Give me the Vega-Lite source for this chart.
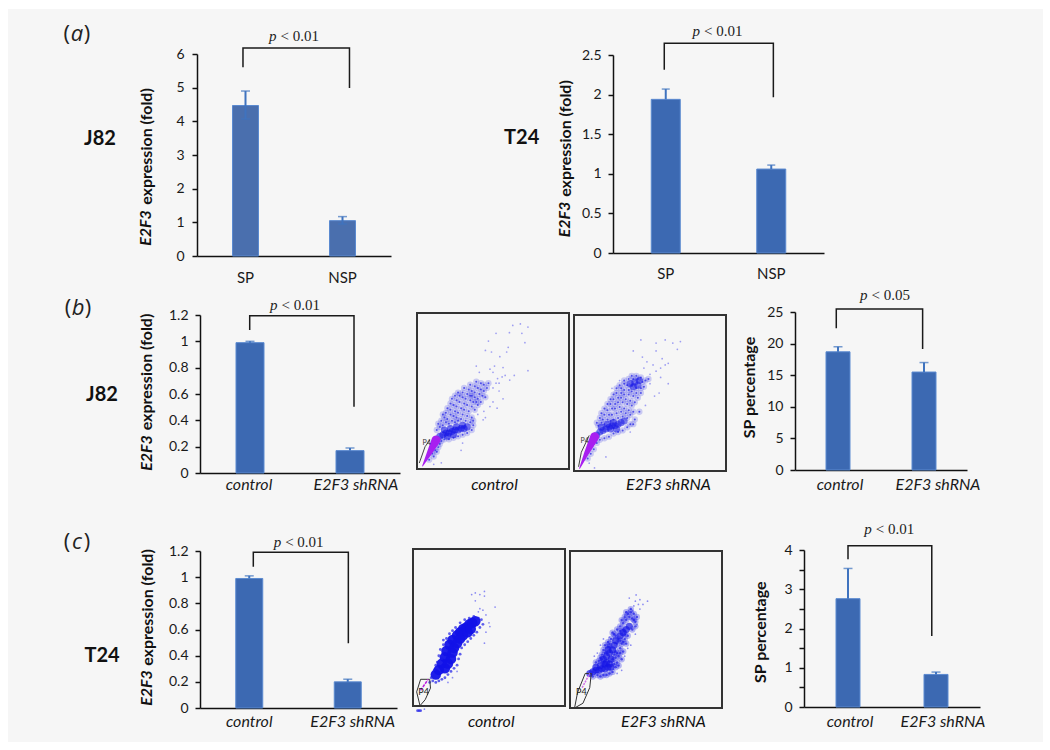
{"$schema":"https://vega.github.io/schema/vega-lite/v6.json","background":"#f6f6f6","padding":0,"spacing":0,
"config":{"view":{"stroke":null},"axis":{"grid":false,"labelFont":"Lato","labelFontSize":14,"labelColor":"#1a1a1a","titleFont":"Lato","titleFontSize":16,"titleFontWeight":"bold","titleColor":"#111111","tickColor":"#111111","domainColor":"#111111","domainWidth":1.5,"tickWidth":1.5,"tickSize":5,"labelPadding":7}},
"datasets":{
"bcm":[{"x":13,"y":25},{"x":15,"y":27},{"x":17,"y":28},{"x":14,"y":29},{"x":16,"y":31},{"x":19,"y":30},{"x":21,"y":29},{"x":18,"y":33},{"x":20,"y":32},{"x":23,"y":31},{"x":25,"y":30},{"x":27,"y":31},{"x":17,"y":35},{"x":19,"y":36},{"x":22,"y":35},{"x":24,"y":34},{"x":26,"y":33},{"x":29,"y":32},{"x":32,"y":31},{"x":35,"y":30},{"x":37,"y":31},{"x":20,"y":39},{"x":22,"y":38},{"x":25,"y":37},{"x":27,"y":36},{"x":30,"y":35},{"x":33,"y":34},{"x":36,"y":33},{"x":22,"y":42},{"x":24,"y":41},{"x":26,"y":40},{"x":29,"y":39},{"x":31,"y":38},{"x":34,"y":37},{"x":23,"y":45},{"x":26,"y":44},{"x":28,"y":43},{"x":31,"y":42},{"x":33,"y":41},{"x":36,"y":40},{"x":38,"y":38},{"x":25,"y":47},{"x":28,"y":47},{"x":30,"y":46},{"x":32,"y":45},{"x":35,"y":44},{"x":37,"y":43},{"x":40,"y":41},{"x":27,"y":49},{"x":30,"y":49},{"x":33,"y":48},{"x":35,"y":47},{"x":38,"y":46},{"x":40,"y":45},{"x":42,"y":43},{"x":31,"y":52},{"x":34,"y":51},{"x":36,"y":50},{"x":38,"y":49},{"x":41,"y":48},{"x":43,"y":47},{"x":45,"y":46},{"x":35,"y":54},{"x":38,"y":53},{"x":40,"y":52},{"x":42,"y":51},{"x":44,"y":50},{"x":46,"y":52},{"x":39,"y":56},{"x":42,"y":55},{"x":44,"y":54},{"x":47,"y":55},{"x":36,"y":47},{"x":39,"y":43},{"x":10,"y":10},{"x":12,"y":12},{"x":14,"y":14},{"x":15,"y":16},{"x":12,"y":16},{"x":16,"y":18},{"x":18,"y":19},{"x":13,"y":11},{"x":11,"y":8},{"x":8,"y":6},{"x":14,"y":18},{"x":21,"y":19},{"x":24,"y":20},{"x":27,"y":21},{"x":30,"y":22},{"x":33,"y":23},{"x":36,"y":25},{"x":37,"y":28}],
"bsm":[{"x":16,"y":29},{"x":18,"y":31},{"x":15,"y":31},{"x":20,"y":30},{"x":17,"y":34},{"x":19,"y":33},{"x":22,"y":33},{"x":24,"y":32},{"x":26,"y":33},{"x":29,"y":34},{"x":32,"y":35},{"x":35,"y":34},{"x":18,"y":37},{"x":20,"y":36},{"x":23,"y":36},{"x":25,"y":36},{"x":28,"y":37},{"x":31,"y":38},{"x":34,"y":37},{"x":37,"y":36},{"x":20,"y":40},{"x":22,"y":39},{"x":25,"y":40},{"x":27,"y":40},{"x":30,"y":41},{"x":33,"y":40},{"x":36,"y":39},{"x":39,"y":38},{"x":22,"y":43},{"x":24,"y":43},{"x":27,"y":43},{"x":29,"y":44},{"x":32,"y":44},{"x":35,"y":43},{"x":38,"y":42},{"x":24,"y":46},{"x":26,"y":46},{"x":29,"y":47},{"x":31,"y":47},{"x":34,"y":46},{"x":37,"y":45},{"x":40,"y":44},{"x":26,"y":49},{"x":28,"y":50},{"x":31,"y":50},{"x":33,"y":49},{"x":36,"y":49},{"x":39,"y":48},{"x":42,"y":47},{"x":28,"y":53},{"x":31,"y":53},{"x":33,"y":52},{"x":36,"y":52},{"x":38,"y":51},{"x":41,"y":50},{"x":44,"y":50},{"x":30,"y":55},{"x":33,"y":56},{"x":35,"y":55},{"x":38,"y":55},{"x":41,"y":53},{"x":44,"y":53},{"x":46,"y":54},{"x":33,"y":58},{"x":36,"y":59},{"x":39,"y":59},{"x":42,"y":59},{"x":45,"y":57},{"x":47,"y":58},{"x":49,"y":59},{"x":38,"y":61},{"x":41,"y":61},{"x":44,"y":60},{"x":9,"y":8},{"x":11,"y":11},{"x":13,"y":14},{"x":15,"y":18},{"x":17,"y":20},{"x":13,"y":19},{"x":20,"y":21},{"x":23,"y":22},{"x":26,"y":24},{"x":29,"y":25},{"x":32,"y":26},{"x":35,"y":28},{"x":37,"y":30},{"x":40,"y":33},{"x":39,"y":30},{"x":43,"y":38}],
"csm":[{"x":19,"y":30},{"x":17,"y":29},{"x":21,"y":34},{"x":20,"y":32},{"x":22,"y":37},{"x":23,"y":40},{"x":25,"y":42},{"x":27,"y":44},{"x":29,"y":47},{"x":31,"y":50},{"x":33,"y":52},{"x":35,"y":54},{"x":37,"y":56},{"x":39,"y":58},{"x":41,"y":57},{"x":43,"y":55},{"x":43,"y":52},{"x":41,"y":50},{"x":38,"y":46},{"x":36,"y":44},{"x":34,"y":41},{"x":33,"y":38},{"x":31,"y":35},{"x":30,"y":32},{"x":29,"y":28},{"x":32,"y":33},{"x":31,"y":29},{"x":30,"y":26},{"x":28,"y":23},{"x":26,"y":22},{"x":24,"y":21},{"x":22,"y":21},{"x":20,"y":20},{"x":18,"y":21},{"x":15,"y":20},{"x":28,"y":48},{"x":26,"y":39},{"x":34,"y":56},{"x":36,"y":58},{"x":38,"y":60},{"x":40,"y":61},{"x":42,"y":60},{"x":40,"y":63},{"x":37,"y":61},{"x":44,"y":58},{"x":42,"y":56},{"x":35,"y":50},{"x":32,"y":44},{"x":31,"y":41},{"x":29,"y":34},{"x":32,"y":27},{"x":34,"y":31},{"x":21,"y":31},{"x":23,"y":35},{"x":25,"y":39},{"x":33,"y":43},{"x":36,"y":47},{"x":35,"y":42},{"x":33,"y":35},{"x":35,"y":36},{"x":37,"y":41},{"x":30,"y":36},{"x":28,"y":31},{"x":26,"y":41},{"x":30,"y":46},{"x":33,"y":49},{"x":22,"y":28}]
},
"vconcat":[
{"width":1050,"height":9,"view":{"fill":"white"},"data":{"values":[]},"mark":"point","encoding":{}},
{"spacing":0,"bounds":"flush","hconcat":[
{"width":8,"height":277,"view":{"fill":"white"},"data":{"values":[]},"mark":"point","encoding":{}},
{"width":189,"height":1,"data":{"values":[]},"mark":"point","encoding":{}},
{"width":194,"height":247,"resolve":{"scale":{"x":"independent"}},
 "encoding":{"y":{"field":"y","type":"quantitative","scale":{"domain":[0,6],"nice":false,"range":[247,45]},"axis":{"values":[0,1,2,3,4,5,6],"title":"expression (fold)","titleX":-51,"titleY":137,"titleAngle":270,"titleAlign":"center","titleBaseline":"middle","labelPadding":8}}},
 "layer":[
 {"encoding":{"x":{"field":"g","type":"nominal","sort":null,"scale":{"type":"band","domain":["SP","NSP"],"paddingInner":0,"paddingOuter":0},"axis":{"title":null,"ticks":false,"labelAngle":0,"labelPadding":14,"labelFontSize":15}}},
  "layer":[
  {"data":{"values":[{"g":"SP","y":4.47},{"g":"NSP","y":1.05}]},"mark":{"type":"bar","width":26,"color":"#4a6fae","stroke":"#5b8ad0","strokeWidth":1}},
  {"data":{"values":[{"g":"SP","y":4.07,"h":4.9},{"g":"NSP","y":0.95,"h":1.17}]},"mark":{"type":"rule","color":"#3f73bf","strokeWidth":2},"encoding":{"y2":{"field":"h"}}},
  {"data":{"values":[{"g":"SP","y":4.9},{"g":"NSP","y":1.17},{"g":"SP","y":4.07},{"g":"NSP","y":0.95}]},"mark":{"type":"tick","size":9,"thickness":1.5,"color":"#3f73bf"}}
  ]},
 {"encoding":{"x":{"field":"x","type":"quantitative","scale":{"domain":[0,100],"nice":false,"zero":false},"axis":null}},
  "layer":[
  {"data":{"values":[{"i":1,"x":23.7,"y":5.61},{"i":2,"x":23.7,"y":6.18},{"i":3,"x":78.6,"y":6.18},{"i":4,"x":78.6,"y":4.99}]},"mark":{"type":"line","color":"#1a1a1a","strokeWidth":1.5},"encoding":{"order":{"field":"i"}}},
  {"data":{"values":[{"x":42,"y":6.53}]},"mark":{"type":"text","text":"p","font":"Liberation Serif","fontStyle":"italic","fontSize":15,"align":"right","dx":-2,"color":"#222222"}},
  {"data":{"values":[{"t":"< 0.01","x":42,"y":6.53}]},"mark":{"type":"text","font":"Liberation Serif","fontSize":15,"align":"left","dx":2,"color":"#222222"},"encoding":{"text":{"field":"t"}}},
  {"data":{"values":[{"t":"E2F3","x":-26.3,"y":0.83}]},"mark":{"type":"text","font":"Lato","fontStyle":"italic","fontWeight":"bold","fontSize":16,"angle":270,"color":"#111111"},"encoding":{"text":{"field":"t"}}},
  {"data":{"values":[{"t":"J82","x":-50,"y":3.475}]},"mark":{"type":"text","font":"Lato","fontWeight":"bold","fontSize":20,"color":"#111111"},"encoding":{"text":{"field":"t"}}},
  {"data":{"values":[{"t":"(","x":-67.1,"y":6.59},{"t":")","x":-56.7,"y":6.59}]},"mark":{"type":"text","font":"Open Sans","fontSize":22,"color":"#222222"},"encoding":{"text":{"field":"t"}}},
  {"data":{"values":[{"t":"a","x":-61.9,"y":6.59}]},"mark":{"type":"text","font":"Open Sans","fontStyle":"italic","fontSize":22,"color":"#222222"},"encoding":{"text":{"field":"t"}}}
  ]}
 ]},
{"width":222,"height":1,"data":{"values":[]},"mark":"point","encoding":{}},
{"width":211,"height":244,"resolve":{"scale":{"x":"independent"}},
 "encoding":{"y":{"field":"y","type":"quantitative","scale":{"domain":[0,2.5],"nice":false,"range":[244,46]},"axis":{"values":[0,0.5,1,1.5,2,2.5],"format":"~g","title":"expression (fold)","titleX":-48,"titleY":129,"titleAngle":270,"titleAlign":"center","titleBaseline":"middle"}}},
 "layer":[
 {"encoding":{"x":{"field":"g","type":"nominal","sort":null,"scale":{"type":"band","domain":["SP","NSP"],"paddingInner":0,"paddingOuter":0},"axis":{"title":null,"ticks":false,"labelAngle":0,"labelPadding":13,"labelFontSize":15}}},
  "layer":[
  {"data":{"values":[{"g":"SP","y":1.94},{"g":"NSP","y":1.06}]},"mark":{"type":"bar","width":29,"color":"#3c69b2","stroke":"#5b8ad0","strokeWidth":1}},
  {"data":{"values":[{"g":"SP","y":1.94,"h":2.07},{"g":"NSP","y":1.06,"h":1.11}]},"mark":{"type":"rule","color":"#3f73bf","strokeWidth":2},"encoding":{"y2":{"field":"h"}}},
  {"data":{"values":[{"g":"SP","y":2.07},{"g":"NSP","y":1.11}]},"mark":{"type":"tick","size":8,"thickness":1.5,"color":"#3f73bf"}}
  ]},
 {"encoding":{"x":{"field":"x","type":"quantitative","scale":{"domain":[0,100],"nice":false,"zero":false},"axis":null}},
  "layer":[
  {"data":{"values":[{"i":1,"x":24.3,"y":2.314},{"i":2,"x":24.3,"y":2.648},{"i":3,"x":76,"y":2.648},{"i":4,"x":76,"y":1.966}]},"mark":{"type":"line","color":"#1a1a1a","strokeWidth":1.5},"encoding":{"order":{"field":"i"}}},
  {"data":{"values":[{"x":42.2,"y":2.807}]},"mark":{"type":"text","text":"p","font":"Liberation Serif","fontStyle":"italic","fontSize":15,"align":"right","dx":-2,"color":"#222222"}},
  {"data":{"values":[{"t":"< 0.01","x":42.2,"y":2.807}]},"mark":{"type":"text","font":"Liberation Serif","fontSize":15,"align":"left","dx":2,"color":"#222222"},"encoding":{"text":{"field":"t"}}},
  {"data":{"values":[{"t":"E2F3","x":-22.7,"y":0.423}]},"mark":{"type":"text","font":"Lato","fontStyle":"italic","fontWeight":"bold","fontSize":16,"angle":270,"color":"#111111"},"encoding":{"text":{"field":"t"}}},
  {"data":{"values":[{"t":"T24","x":-43.3,"y":1.452}]},"mark":{"type":"text","font":"Lato","fontWeight":"bold","fontSize":20,"color":"#111111"},"encoding":{"text":{"field":"t"}}}
  ]}
 ]},
{"width":219,"height":1,"data":{"values":[]},"mark":"point","encoding":{}},
{"width":7,"height":277,"view":{"fill":"white"},"data":{"values":[]},"mark":"point","encoding":{}}
]},
{"spacing":0,"bounds":"flush","hconcat":[
{"width":8,"height":214,"view":{"fill":"white"},"data":{"values":[]},"mark":"point","encoding":{}},
{"width":192,"height":1,"data":{"values":[]},"mark":"point","encoding":{}},
{"width":200,"height":187,"resolve":{"scale":{"x":"independent"}},
 "encoding":{"y":{"field":"y","type":"quantitative","scale":{"domain":[0,1.2],"nice":false,"range":[187,29]},"axis":{"values":[0,0.2,0.4,0.6,0.8,1,1.2],"format":"~g","title":"expression (fold)","titleX":-53.3,"titleY":85.5,"titleAngle":270,"titleAlign":"center","titleBaseline":"middle"}}},
 "layer":[
 {"encoding":{"x":{"field":"g","type":"nominal","sort":null,"scale":{"type":"band","domain":["control","E2F3 shRNA"],"paddingInner":0,"paddingOuter":0},"axis":{"title":null,"ticks":false,"labelAngle":0,"labelPadding":3,"labelFontSize":16,"labelFontStyle":"italic","labelOffset":{"condition":{"test":"datum.value=='control'","value":-1},"value":6}}}},
  "layer":[
  {"data":{"values":[{"g":"control","y":0.99},{"g":"E2F3 shRNA","y":0.17}]},"mark":{"type":"bar","width":28,"color":"#3c69b2","stroke":"#5b8ad0","strokeWidth":1}},
  {"data":{"values":[{"g":"control","y":0.99,"h":1.0},{"g":"E2F3 shRNA","y":0.17,"h":0.19}]},"mark":{"type":"rule","color":"#3f73bf","strokeWidth":2},"encoding":{"y2":{"field":"h"}}},
  {"data":{"values":[{"g":"control","y":1.0},{"g":"E2F3 shRNA","y":0.19}]},"mark":{"type":"tick","size":9,"thickness":1.5,"color":"#3f73bf"}}
  ]},
 {"encoding":{"x":{"field":"x","type":"quantitative","scale":{"domain":[0,100],"nice":false,"zero":false},"axis":null}},
  "layer":[
  {"data":{"values":[{"i":1,"x":24.85,"y":1.086},{"i":2,"x":24.85,"y":1.195},{"i":3,"x":77,"y":1.195},{"i":4,"x":77,"y":0.504}]},"mark":{"type":"line","color":"#1a1a1a","strokeWidth":1.5},"encoding":{"order":{"field":"i"}}},
  {"data":{"values":[{"x":39.75,"y":1.276}]},"mark":{"type":"text","text":"p","font":"Liberation Serif","fontStyle":"italic","fontSize":15,"align":"right","dx":-2,"color":"#222222"}},
  {"data":{"values":[{"t":"< 0.01","x":39.75,"y":1.276}]},"mark":{"type":"text","font":"Liberation Serif","fontSize":15,"align":"left","dx":2,"color":"#222222"},"encoding":{"text":{"field":"t"}}},
  {"data":{"values":[{"t":"E2F3","x":-26.65,"y":0.152}]},"mark":{"type":"text","font":"Lato","fontStyle":"italic","fontWeight":"bold","fontSize":16,"angle":270,"color":"#111111"},"encoding":{"text":{"field":"t"}}},
  {"data":{"values":[{"t":"J82","x":-49,"y":0.592}]},"mark":{"type":"text","font":"Lato","fontWeight":"bold","fontSize":20,"color":"#111111"},"encoding":{"text":{"field":"t"}}},
  {"data":{"values":[{"t":"(","x":-66,"y":1.253},{"t":")","x":-56,"y":1.253}]},"mark":{"type":"text","font":"Open Sans","fontSize":22,"color":"#222222"},"encoding":{"text":{"field":"t"}}},
  {"data":{"values":[{"t":"b","x":-61,"y":1.253}]},"mark":{"type":"text","font":"Open Sans","fontStyle":"italic","fontSize":22,"color":"#222222"},"encoding":{"text":{"field":"t"}}}
  ]}
 ]},
{"width":17,"height":1,"data":{"values":[]},"mark":"point","encoding":{}},
{"width":152,"height":183,
 "encoding":{"x":{"field":"x","type":"quantitative","scale":{"domain":[0,100],"nice":false,"zero":false},"axis":{"title":"control","domain":false,"ticks":false,"labels":false,"titleFontStyle":"italic","titleFontWeight":"normal","titleFontSize":16,"titleX":77,"titleY":15,"titleAlign":"center","titleBaseline":"middle"}},"y":{"field":"y","type":"quantitative","scale":{"domain":[0,100],"nice":false,"zero":false,"range":[183,27]},"axis":null}},
 "layer":[
 {"data":{"values":[{"x":0,"y":0,"x2":100,"y2":100}]},"mark":{"type":"rect","fill":null,"stroke":"#333333","strokeWidth":2},"encoding":{"x2":{"field":"x2"},"y2":{"field":"y2"}}},
 {"data":{"name":"bcm"},"mark":{"type":"circle","size":40,"opacity":0.2,"color":"#1c1ce8"}},
 {"data":{"values":[{"x":15,"y":21},{"x":17,"y":22},{"x":19,"y":23},{"x":21,"y":23},{"x":23,"y":24},{"x":25,"y":25},{"x":27,"y":25},{"x":29,"y":26},{"x":31,"y":26},{"x":33,"y":27},{"x":18,"y":25},{"x":22,"y":26},{"x":26,"y":27},{"x":30,"y":28},{"x":20,"y":21},{"x":24,"y":22},{"x":13,"y":19}]},"mark":{"type":"circle","size":50,"opacity":0.6,"color":"#1515e6"}},
 {"data":{"name":"bcm"},"mark":{"type":"circle","size":4,"opacity":0.7,"color":"#1c1ce8"}},
 {"data":{"values":[{"x":47,"y":82},{"x":52,"y":87},{"x":60.8,"y":87.4},{"x":63,"y":92},{"x":68,"y":93},{"x":73,"y":91},{"x":69,"y":87},{"x":71,"y":81},{"x":60,"y":78},{"x":59,"y":75},{"x":54.5,"y":72},{"x":45,"y":76},{"x":49,"y":75},{"x":39,"y":66},{"x":41,"y":62},{"x":48,"y":64},{"x":51,"y":66},{"x":56.6,"y":65},{"x":73,"y":63},{"x":64,"y":60},{"x":61,"y":57},{"x":54,"y":55},{"x":56.6,"y":45},{"x":52.7,"y":39},{"x":43.5,"y":31.5},{"x":30,"y":16.6},{"x":16,"y":4},{"x":40,"y":35},{"x":44,"y":37},{"x":48,"y":40},{"x":50,"y":43},{"x":45,"y":33},{"x":50,"y":52},{"x":52,"y":55},{"x":54,"y":50},{"x":53,"y":58},{"x":56,"y":59},{"x":58,"y":60},{"x":50,"y":62},{"x":29,"y":12},{"x":11,"y":3}]},"mark":{"type":"circle","size":3,"opacity":0.5,"color":"#4545f0"}},
 {"data":{"values":[{"x":3.7,"y":2,"w":0},{"x":8,"y":10,"w":5},{"x":12.5,"y":18.6,"w":10}]},"mark":{"type":"trail","color":"#a81ff0"},"encoding":{"size":{"field":"w","type":"quantitative","legend":null,"scale":{"domain":[0,10],"range":[1,9]}},"order":{"field":"w"}}},
 {"data":{"values":[{"i":1,"x":1.5,"y":3.8},{"i":2,"x":5.3,"y":14.3},{"i":3,"x":8.5,"y":18.6}]},"mark":{"type":"line","color":"#444444","strokeWidth":1},"encoding":{"order":{"field":"i"}}},
 {"data":{"values":[{"t":"P4","x":6.4,"y":16.7}]},"mark":{"type":"text","font":"Lato","fontSize":7,"color":"#333333"},"encoding":{"text":{"field":"t"}}}
 ]},
{"width":5,"height":1,"data":{"values":[]},"mark":"point","encoding":{}},
{"width":152,"height":185,
 "encoding":{"x":{"field":"x","type":"quantitative","scale":{"domain":[0,100],"nice":false,"zero":false},"axis":{"title":"E2F3 shRNA","domain":false,"ticks":false,"labels":false,"titleFontStyle":"italic","titleFontWeight":"normal","titleFontSize":16,"titleX":94,"titleY":13,"titleAlign":"center","titleBaseline":"middle"}},"y":{"field":"y","type":"quantitative","scale":{"domain":[0,100],"nice":false,"zero":false,"range":[185,29]},"axis":null}},
 "layer":[
 {"data":{"values":[{"x":0,"y":0,"x2":100,"y2":100}]},"mark":{"type":"rect","fill":null,"stroke":"#333333","strokeWidth":2},"encoding":{"x2":{"field":"x2"},"y2":{"field":"y2"}}},
 {"data":{"name":"bsm"},"mark":{"type":"circle","size":40,"opacity":0.2,"color":"#1c1ce8"}},
 {"data":{"values":[{"x":15,"y":23},{"x":17,"y":25},{"x":19,"y":26},{"x":21,"y":27},{"x":23,"y":28},{"x":25,"y":29},{"x":27,"y":29},{"x":29,"y":30},{"x":31,"y":31},{"x":33,"y":32},{"x":18,"y":28},{"x":22,"y":30},{"x":26,"y":31},{"x":24,"y":27},{"x":28,"y":27},{"x":37,"y":56},{"x":40,"y":57},{"x":43,"y":58},{"x":39,"y":54},{"x":42,"y":55}]},"mark":{"type":"circle","size":50,"opacity":0.55,"color":"#1515e6"}},
 {"data":{"name":"bsm"},"mark":{"type":"circle","size":4,"opacity":0.7,"color":"#1c1ce8"}},
 {"data":{"values":[{"x":44,"y":84},{"x":54,"y":82},{"x":60,"y":84},{"x":65,"y":82},{"x":70,"y":83},{"x":68,"y":78},{"x":54,"y":77},{"x":45,"y":73},{"x":58,"y":72},{"x":52,"y":68},{"x":60,"y":68},{"x":62,"y":69},{"x":39,"y":77},{"x":46,"y":66},{"x":54,"y":64},{"x":57,"y":60},{"x":62,"y":56},{"x":56,"y":50},{"x":53,"y":48},{"x":47,"y":42},{"x":37,"y":25},{"x":21,"y":9},{"x":13.5,"y":2},{"x":10,"y":5},{"x":30,"y":58},{"x":25,"y":53},{"x":50,"y":62},{"x":48,"y":70},{"x":57,"y":66},{"x":50,"y":56}]},"mark":{"type":"circle","size":3,"opacity":0.5,"color":"#4545f0"}},
 {"data":{"values":[{"x":3.7,"y":1.7,"w":0},{"x":8.5,"y":12,"w":5},{"x":13.6,"y":22,"w":10}]},"mark":{"type":"trail","color":"#a81ff0"},"encoding":{"size":{"field":"w","type":"quantitative","legend":null,"scale":{"domain":[0,10],"range":[1,7]}},"order":{"field":"w"}}},
 {"data":{"values":[{"i":1,"x":3,"y":2.7},{"i":2,"x":4.8,"y":12},{"i":3,"x":10,"y":22.8}]},"mark":{"type":"line","color":"#444444","strokeWidth":1},"encoding":{"order":{"field":"i"}}},
 {"data":{"values":[{"t":"P4","x":7,"y":19}]},"mark":{"type":"text","font":"Lato","fontSize":7,"color":"#333333"},"encoding":{"text":{"field":"t"}}}
 ]},
{"width":69,"height":1,"data":{"values":[]},"mark":"point","encoding":{}},
{"width":172,"height":184,"resolve":{"scale":{"x":"independent"}},
 "encoding":{"y":{"field":"y","type":"quantitative","scale":{"domain":[0,25],"nice":false,"range":[184,26]},"axis":{"values":[0,5,10,15,20,25],"title":"SP percentage","titleX":-45.7,"titleY":101,"titleAngle":270,"titleAlign":"center","titleBaseline":"middle"}}},
 "layer":[
 {"encoding":{"x":{"field":"g","type":"nominal","sort":null,"scale":{"type":"band","domain":["control","E2F3 shRNA"],"paddingInner":0,"paddingOuter":0},"axis":{"title":null,"ticks":false,"labelAngle":0,"labelPadding":6,"labelFontSize":16,"labelFontStyle":"italic","labelOffset":{"condition":{"test":"datum.value=='control'","value":2},"value":14}}}},
  "layer":[
  {"data":{"values":[{"g":"control","y":18.7},{"g":"E2F3 shRNA","y":15.5}]},"mark":{"type":"bar","width":24,"color":"#3c69b2","stroke":"#5b8ad0","strokeWidth":1}},
  {"data":{"values":[{"g":"control","y":18.7,"h":19.5},{"g":"E2F3 shRNA","y":15.5,"h":17}]},"mark":{"type":"rule","color":"#3f73bf","strokeWidth":2},"encoding":{"y2":{"field":"h"}}},
  {"data":{"values":[{"g":"control","y":19.5},{"g":"E2F3 shRNA","y":17}]},"mark":{"type":"tick","size":9,"thickness":1.5,"color":"#3f73bf"}}
  ]},
 {"encoding":{"x":{"field":"x","type":"quantitative","scale":{"domain":[0,100],"nice":false,"zero":false},"axis":null}},
  "layer":[
  {"data":{"values":[{"i":1,"x":24,"y":22.42},{"i":2,"x":24,"y":25.47},{"i":3,"x":74.2,"y":25.47},{"i":4,"x":74.2,"y":19.15}]},"mark":{"type":"line","color":"#1a1a1a","strokeWidth":1.5},"encoding":{"order":{"field":"i"}}},
  {"data":{"values":[{"x":43.3,"y":27.69}]},"mark":{"type":"text","text":"p","font":"Liberation Serif","fontStyle":"italic","fontSize":15,"align":"right","dx":-2,"color":"#222222"}},
  {"data":{"values":[{"t":"< 0.05","x":43.3,"y":27.69}]},"mark":{"type":"text","font":"Liberation Serif","fontSize":15,"align":"left","dx":2,"color":"#222222"},"encoding":{"text":{"field":"t"}}}
  ]}
 ]},
{"width":76,"height":1,"data":{"values":[]},"mark":"point","encoding":{}},
{"width":7,"height":214,"view":{"fill":"white"},"data":{"values":[]},"mark":"point","encoding":{}}
]},
{"spacing":0,"bounds":"flush","hconcat":[
{"width":8,"height":242,"view":{"fill":"white"},"data":{"values":[]},"mark":"point","encoding":{}},
{"width":192,"height":1,"data":{"values":[]},"mark":"point","encoding":{}},
{"width":197,"height":208,"resolve":{"scale":{"x":"independent"}},
 "encoding":{"y":{"field":"y","type":"quantitative","scale":{"domain":[0,1.2],"nice":false,"range":[208,51]},"axis":{"values":[0,0.2,0.4,0.6,0.8,1,1.2],"format":"~g","title":"expression (fold)","titleX":-52.7,"titleY":107,"titleAngle":270,"titleAlign":"center","titleBaseline":"middle"}}},
 "layer":[
 {"encoding":{"x":{"field":"g","type":"nominal","sort":null,"scale":{"type":"band","domain":["control","E2F3 shRNA"],"paddingInner":0,"paddingOuter":0},"axis":{"title":null,"ticks":false,"labelAngle":0,"labelPadding":5,"labelFontSize":16,"labelFontStyle":"italic","labelOffset":{"condition":{"test":"datum.value=='control'","value":0},"value":5}}}},
  "layer":[
  {"data":{"values":[{"g":"control","y":0.99},{"g":"E2F3 shRNA","y":0.2}]},"mark":{"type":"bar","width":27,"color":"#3c69b2","stroke":"#5b8ad0","strokeWidth":1}},
  {"data":{"values":[{"g":"control","y":0.99,"h":1.01},{"g":"E2F3 shRNA","y":0.2,"h":0.22}]},"mark":{"type":"rule","color":"#3f73bf","strokeWidth":2},"encoding":{"y2":{"field":"h"}}},
  {"data":{"values":[{"g":"control","y":1.01},{"g":"E2F3 shRNA","y":0.22}]},"mark":{"type":"tick","size":9,"thickness":1.5,"color":"#3f73bf"}}
  ]},
 {"encoding":{"x":{"field":"x","type":"quantitative","scale":{"domain":[0,100],"nice":false,"zero":false},"axis":null}},
  "layer":[
  {"data":{"values":[{"i":1,"x":27.06,"y":1.08},{"i":2,"x":27.06,"y":1.19},{"i":3,"x":75.3,"y":1.19},{"i":4,"x":75.3,"y":0.495}]},"mark":{"type":"line","color":"#1a1a1a","strokeWidth":1.5},"encoding":{"order":{"field":"i"}}},
  {"data":{"values":[{"x":42.2,"y":1.271}]},"mark":{"type":"text","text":"p","font":"Liberation Serif","fontStyle":"italic","fontSize":15,"align":"right","dx":-2,"color":"#222222"}},
  {"data":{"values":[{"t":"< 0.01","x":42.2,"y":1.271}]},"mark":{"type":"text","font":"Liberation Serif","fontSize":15,"align":"left","dx":2,"color":"#222222"},"encoding":{"text":{"field":"t"}}},
  {"data":{"values":[{"t":"E2F3","x":-26.75,"y":0.153}]},"mark":{"type":"text","font":"Lato","fontStyle":"italic","fontWeight":"bold","fontSize":16,"angle":270,"color":"#111111"},"encoding":{"text":{"field":"t"}}},
  {"data":{"values":[{"t":"T24","x":-49.7,"y":0.397}]},"mark":{"type":"text","font":"Lato","fontWeight":"bold","fontSize":20,"color":"#111111"},"encoding":{"text":{"field":"t"}}},
  {"data":{"values":[{"t":"(","x":-67.5,"y":1.271},{"t":")","x":-57.3,"y":1.271}]},"mark":{"type":"text","font":"Open Sans","fontSize":22,"color":"#222222"},"encoding":{"text":{"field":"t"}}},
  {"data":{"values":[{"t":"c","x":-62.4,"y":1.271}]},"mark":{"type":"text","font":"Open Sans","fontStyle":"italic","fontSize":22,"color":"#222222"},"encoding":{"text":{"field":"t"}}}
  ]}
 ]},
{"width":16,"height":1,"data":{"values":[]},"mark":"point","encoding":{}},
{"width":152,"height":206,
 "encoding":{"x":{"field":"x","type":"quantitative","scale":{"domain":[0,100],"nice":false,"zero":false},"axis":{"title":"control","domain":false,"ticks":false,"labels":false,"titleFontStyle":"italic","titleFontWeight":"normal","titleFontSize":16,"titleX":77.7,"titleY":15,"titleAlign":"center","titleBaseline":"middle"}},"y":{"field":"y","type":"quantitative","scale":{"domain":[0,100],"nice":false,"zero":false,"range":[206,49]},"axis":null}},
 "layer":[
 {"data":{"values":[{"x":0,"y":0,"x2":100,"y2":100}]},"mark":{"type":"rect","fill":null,"stroke":"#333333","strokeWidth":2},"encoding":{"x2":{"field":"x2"},"y2":{"field":"y2"}}},
 {"data":{"values":[{"x":15,"y":20},{"x":17,"y":23},{"x":19,"y":27},{"x":21,"y":31},{"x":22,"y":35},{"x":24,"y":39},{"x":26,"y":42},{"x":29,"y":45},{"x":31,"y":47},{"x":33,"y":49},{"x":35,"y":50},{"x":37,"y":52},{"x":39,"y":53},{"x":41,"y":54},{"x":21,"y":24},{"x":23,"y":27},{"x":25,"y":30},{"x":26,"y":34},{"x":27,"y":37},{"x":29,"y":40},{"x":31,"y":43},{"x":33,"y":45},{"x":36,"y":47},{"x":38,"y":49}]},"mark":{"type":"circle","size":110,"opacity":0.95,"color":"#1212e8"}},
 {"data":{"values":[{"x":12,"y":18},{"x":14,"y":23},{"x":16,"y":28},{"x":15,"y":26},{"x":17,"y":32},{"x":18,"y":36},{"x":19,"y":30},{"x":20,"y":39},{"x":22,"y":43},{"x":24,"y":46},{"x":26,"y":48},{"x":28,"y":50},{"x":31,"y":53},{"x":34,"y":55},{"x":37,"y":56},{"x":40,"y":57},{"x":43,"y":56},{"x":45,"y":55},{"x":46,"y":52},{"x":44,"y":50},{"x":42,"y":47},{"x":40,"y":45},{"x":38,"y":43},{"x":36,"y":41},{"x":34,"y":39},{"x":32,"y":37},{"x":31,"y":33},{"x":30,"y":30},{"x":29,"y":26},{"x":27,"y":24},{"x":25,"y":22},{"x":23,"y":20},{"x":21,"y":18},{"x":19,"y":17},{"x":17,"y":16},{"x":15,"y":15},{"x":13,"y":16},{"x":20,"y":42},{"x":14,"y":19},{"x":11,"y":15},{"x":3,"y":-3},{"x":4,"y":-3},{"x":5,"y":-3}]},"mark":{"type":"circle","size":8,"opacity":0.7,"color":"#1c1ce8"}},
 {"data":{"values":[{"x":38.6,"y":71},{"x":41,"y":72},{"x":47,"y":73},{"x":44,"y":71},{"x":47,"y":70},{"x":41,"y":67},{"x":50.6,"y":50.6},{"x":54,"y":63},{"x":44,"y":62},{"x":43,"y":60},{"x":46,"y":61},{"x":48,"y":58},{"x":47,"y":40},{"x":29,"y":22},{"x":26,"y":18},{"x":23,"y":15},{"x":7.5,"y":-2},{"x":48,"y":47},{"x":50,"y":53}]},"mark":{"type":"circle","size":3,"opacity":0.6,"color":"#4545f0"}},
 {"data":{"values":[{"i":1,"x":4.6,"y":0.2},{"i":2,"x":2.4,"y":9},{"i":3,"x":5,"y":17},{"i":4,"x":11,"y":17},{"i":5,"x":11.5,"y":11.4},{"i":6,"x":8,"y":4},{"i":7,"x":4.6,"y":0.2}]},"mark":{"type":"line","color":"#333333","strokeWidth":1},"encoding":{"order":{"field":"i"}}},
 {"data":{"values":[{"i":1,"x":5,"y":10},{"i":2,"x":10,"y":17}]},"mark":{"type":"line","color":"#c020e0","strokeWidth":1.5,"strokeDash":[3,1]},"encoding":{"order":{"field":"i"}}},
 {"data":{"values":[{"t":"P4","x":7,"y":9}]},"mark":{"type":"text","font":"Lato","fontSize":9,"color":"#222222"},"encoding":{"text":{"field":"t"}}}
 ]},
{"width":5,"height":1,"data":{"values":[]},"mark":"point","encoding":{}},
{"width":152,"height":208,
 "encoding":{"x":{"field":"x","type":"quantitative","scale":{"domain":[0,100],"nice":false,"zero":false},"axis":{"title":"E2F3 shRNA","domain":false,"ticks":false,"labels":false,"titleFontStyle":"italic","titleFontWeight":"normal","titleFontSize":16,"titleX":93,"titleY":13,"titleAlign":"center","titleBaseline":"middle"}},"y":{"field":"y","type":"quantitative","scale":{"domain":[0,100],"nice":false,"zero":false,"range":[208,51]},"axis":null}},
 "layer":[
 {"data":{"values":[{"x":0,"y":0,"x2":100,"y2":100}]},"mark":{"type":"rect","fill":null,"stroke":"#333333","strokeWidth":2},"encoding":{"x2":{"field":"x2"},"y2":{"field":"y2"}}},
 {"data":{"name":"csm"},"mark":{"type":"circle","size":40,"opacity":0.3,"color":"#1c1ce8"}},
 {"data":{"values":[{"x":13,"y":22},{"x":15,"y":23},{"x":17,"y":24},{"x":19,"y":24},{"x":21,"y":25},{"x":23,"y":25},{"x":25,"y":26},{"x":27,"y":26},{"x":17,"y":26},{"x":20,"y":27},{"x":23,"y":28},{"x":26,"y":28},{"x":22,"y":31},{"x":24,"y":33},{"x":26,"y":35},{"x":24,"y":29},{"x":27,"y":31},{"x":28,"y":37},{"x":29,"y":40},{"x":25,"y":37},{"x":30,"y":43},{"x":33,"y":46},{"x":35,"y":48},{"x":37,"y":50},{"x":39,"y":52}]},"mark":{"type":"circle","size":50,"opacity":0.7,"color":"#1515e6"}},
 {"data":{"name":"csm"},"mark":{"type":"circle","size":6,"opacity":0.7,"color":"#1c1ce8"}},
 {"data":{"values":[{"x":43.5,"y":72},{"x":39,"y":70},{"x":43,"y":68},{"x":46,"y":69},{"x":45,"y":66},{"x":42,"y":65},{"x":48,"y":66},{"x":51,"y":68},{"x":46,"y":63},{"x":41,"y":62},{"x":36,"y":59},{"x":44,"y":53},{"x":43,"y":47},{"x":40,"y":40},{"x":36,"y":33},{"x":38,"y":38},{"x":26,"y":45},{"x":22,"y":44},{"x":20,"y":40},{"x":18,"y":35},{"x":16,"y":33},{"x":34,"y":24},{"x":31,"y":22}]},"mark":{"type":"circle","size":3,"opacity":0.6,"color":"#4545f0"}},
 {"data":{"values":[{"i":1,"x":3,"y":0},{"i":2,"x":5,"y":10},{"i":3,"x":10,"y":22},{"i":4,"x":14,"y":22},{"i":5,"x":13,"y":13},{"i":6,"x":8.5,"y":3},{"i":7,"x":3,"y":0}]},"mark":{"type":"line","color":"#333333","strokeWidth":1},"encoding":{"order":{"field":"i"}}},
 {"data":{"values":[{"i":1,"x":8,"y":13},{"i":2,"x":13,"y":22}]},"mark":{"type":"line","color":"#d070e8","strokeWidth":1.5,"strokeDash":[2,1]},"encoding":{"order":{"field":"i"}}},
 {"data":{"values":[{"t":"P4","x":7.5,"y":10}]},"mark":{"type":"text","font":"Lato","fontSize":9,"color":"#222222"},"encoding":{"text":{"field":"t"}}}
 ]},
{"width":82,"height":1,"data":{"values":[]},"mark":"point","encoding":{}},
{"width":176,"height":207,"resolve":{"scale":{"x":"independent"}},
 "encoding":{"y":{"field":"y","type":"quantitative","scale":{"domain":[0,4],"nice":false,"range":[207,50]},"axis":{"values":[0,0.5,1,1.5,2,2.5,3,3.5,4],"format":"~g","labelExpr":"datum.value % 1 == 0 ? datum.label : ''","title":"SP percentage","titleX":-43.3,"titleY":131.7,"titleAngle":270,"titleAlign":"center","titleBaseline":"middle"}}},
 "layer":[
 {"encoding":{"x":{"field":"g","type":"nominal","sort":null,"scale":{"type":"band","domain":["control","E2F3 shRNA"],"paddingInner":0,"paddingOuter":0},"axis":{"title":null,"ticks":false,"labelAngle":0,"labelPadding":6,"labelFontSize":16,"labelFontStyle":"italic","labelOffset":{"condition":{"test":"datum.value=='control'","value":2},"value":7}}}},
  "layer":[
  {"data":{"values":[{"g":"control","y":2.76},{"g":"E2F3 shRNA","y":0.83}]},"mark":{"type":"bar","width":24,"color":"#3c69b2","stroke":"#5b8ad0","strokeWidth":1}},
  {"data":{"values":[{"g":"control","y":2.76,"h":3.53},{"g":"E2F3 shRNA","y":0.83,"h":0.89}]},"mark":{"type":"rule","color":"#3f73bf","strokeWidth":2},"encoding":{"y2":{"field":"h"}}},
  {"data":{"values":[{"g":"control","y":3.53},{"g":"E2F3 shRNA","y":0.89}]},"mark":{"type":"tick","size":9,"thickness":1.5,"color":"#3f73bf"}}
  ]},
 {"encoding":{"x":{"field":"x","type":"quantitative","scale":{"domain":[0,100],"nice":false,"zero":false},"axis":null}},
  "layer":[
  {"data":{"values":[{"i":1,"x":25,"y":3.763},{"i":2,"x":25,"y":4.11},{"i":3,"x":72.6,"y":4.11},{"i":4,"x":72.6,"y":1.809}]},"mark":{"type":"line","color":"#1a1a1a","strokeWidth":1.5},"encoding":{"order":{"field":"i"}}},
  {"data":{"values":[{"x":39.7,"y":4.535}]},"mark":{"type":"text","text":"p","font":"Liberation Serif","fontStyle":"italic","fontSize":15,"align":"right","dx":-2,"color":"#222222"}},
  {"data":{"values":[{"t":"< 0.01","x":39.7,"y":4.535}]},"mark":{"type":"text","font":"Liberation Serif","fontSize":15,"align":"left","dx":2,"color":"#222222"},"encoding":{"text":{"field":"t"}}}
  ]}
 ]},
{"width":63,"height":1,"data":{"values":[]},"mark":"point","encoding":{}},
{"width":7,"height":242,"view":{"fill":"white"},"data":{"values":[]},"mark":"point","encoding":{}}
]},
{"width":1050,"height":8,"view":{"fill":"white"},"data":{"values":[]},"mark":"point","encoding":{}}
]}
